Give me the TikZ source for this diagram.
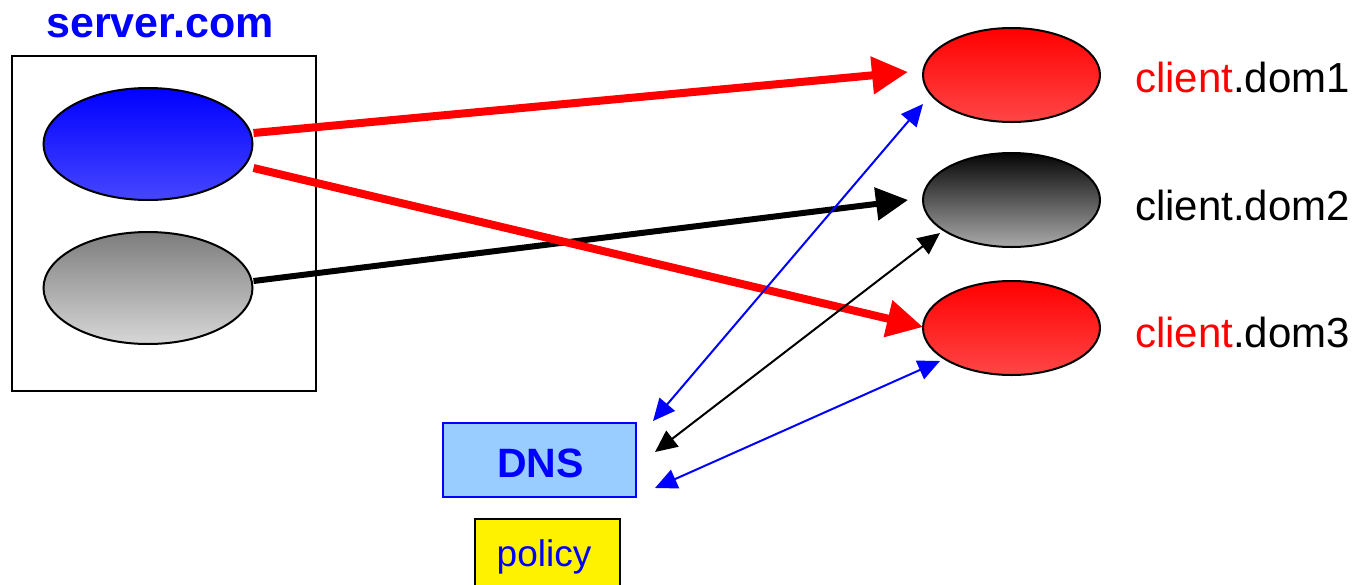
\documentclass[tikz,border=0pt]{standalone}
\usepackage{fontspec}
\setmainfont{Liberation Sans}
\usetikzlibrary{arrows.meta,shapes.geometric}
\definecolor{dnsfill}{RGB}{153,204,255}
\tikzset{
  ell/.style={ellipse,draw=black,line width=2pt,minimum width=209pt,minimum height=112pt,inner sep=0pt},
  cell/.style={ellipse,draw=black,line width=2pt,minimum width=177pt,minimum height=94pt,inner sep=0pt},
  bigred/.style={draw=red,line width=8pt,-{Triangle[length=36pt,width=36pt]}},
  bigblack/.style={draw=black,line width=6pt,-{Triangle[length=32pt,width=32pt]}},
  thin/.style={line width=2pt,{Triangle[length=22pt,width=20pt]}-{Triangle[length=22pt,width=20pt]}},
  lbl/.style={anchor=base west,inner sep=0pt,font=\fontsize{42}{50}\selectfont}
}
\begin{document}
\begin{tikzpicture}[x=1pt,y=-1pt]
\useasboundingbox (0,0) rectangle (1357,584);
% server box
\node[draw=black,line width=2pt,minimum width=304pt,minimum height=335pt,inner sep=0pt] (srv) at (164,223.5) {};
\node[anchor=base,inner sep=0pt,text=blue,font=\bfseries\fontsize{43}{50}\selectfont] (srvlbl) at (160,37) {server.com};
\node[ell,top color=blue!100,bottom color={rgb,255:red,70;green,70;blue,255}] (sb) at (148,144) {};
\node[ell,top color={rgb,255:red,125;green,125;blue,125},bottom color={rgb,255:red,215;green,215;blue,215}] (sg) at (148,288) {};
% clients
\node[cell,top color=red,bottom color={rgb,255:red,255;green,70;blue,70}] (d1) at (1011.5,75) {};
\node[cell,top color={rgb,255:red,5;green,5;blue,5},bottom color={rgb,255:red,170;green,170;blue,170}] (d2) at (1011.5,200) {};
\node[cell,top color=red,bottom color={rgb,255:red,255;green,70;blue,70}] (d3) at (1011.5,328) {};
\node[lbl] (l1) at (1135,92) {\textcolor{red}{client}.dom1};
\node[lbl] (l2) at (1135,220) {client.dom2};
\node[lbl] (l3) at (1135,347) {\textcolor{red}{client}.dom3};
% DNS and policy
\node[draw=blue,line width=2pt,fill=dnsfill,minimum width=193pt,minimum height=74pt,inner sep=0pt] (dns) at (539.5,460) {};
\node[anchor=base,inner sep=0pt,text=blue,font=\bfseries\fontsize{41}{48}\selectfont] (dnslbl) at (540.5,477) {DNS};
\draw[black,line width=2pt,fill=yellow] (475,519) rectangle (620,600);
\node[anchor=base,inner sep=0pt,text=blue,font=\fontsize{37}{44}\selectfont] (pol) at (544,566) {policy};
% tip coordinates
\coordinate (t1) at (908,72);
\coordinate (t2) at (908,200);
\coordinate (t3) at (923,327);
\coordinate (b1a) at (653,421);
\coordinate (b1b) at (923,104);
\coordinate (k1a) at (655,452);
\coordinate (k1b) at (940,233);
\coordinate (b2a) at (655,488);
\coordinate (b2b) at (940,361);
% thick arrows
\draw[bigred] ([yshift=11pt]sb.east) -- (t1);
\draw[bigblack] ([yshift=7pt]sg.east) -- (t2);
\draw[bigred] ([yshift=-24pt]sb.east) -- (t3);
% thin
\draw[thin,blue] (b1a) -- (b1b);
\draw[thin,black] (k1a) -- (k1b);
\draw[thin,blue] (b2a) -- (b2b);
\end{tikzpicture}
\end{document}
